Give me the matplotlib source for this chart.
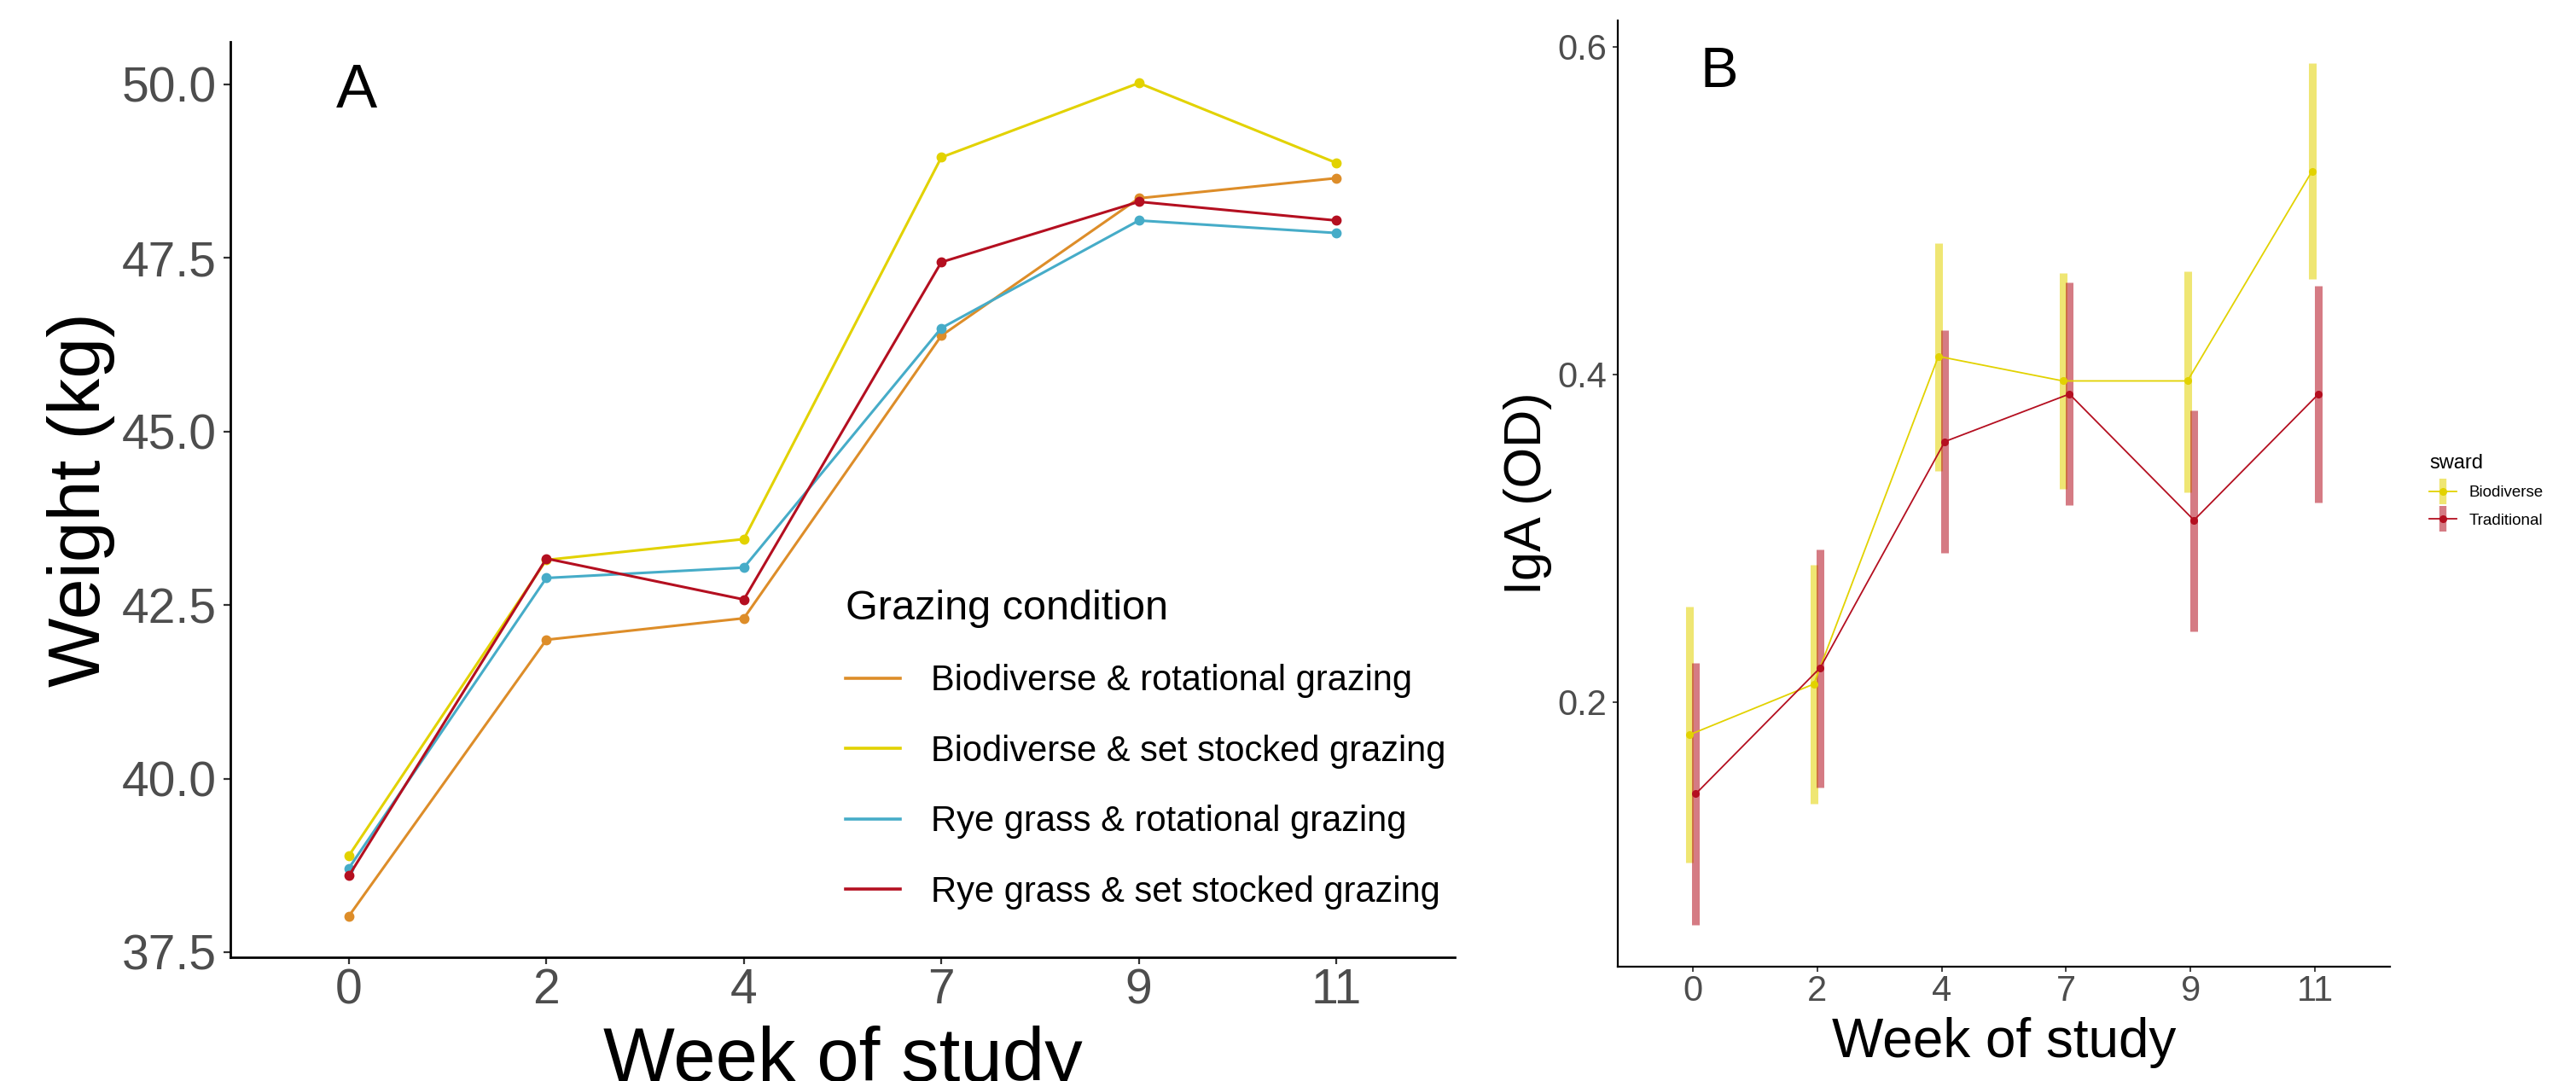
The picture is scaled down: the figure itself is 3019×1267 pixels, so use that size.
import numpy as np
import matplotlib
matplotlib.use("Agg")
import matplotlib.pyplot as plt
from matplotlib.lines import Line2D

plt.rcParams['font.family'] = ['Liberation Sans', 'DejaVu Sans']

# Panel A: mean weight per grazing condition
weeks = ['0', '2', '4', '7', '9', '11']
bio_rot = [38.02, 42.00, 42.31, 46.38, 48.36, 48.65]
bio_set = [38.89, 43.15, 43.45, 48.95, 50.02, 48.87]
rye_rot = [38.71, 42.89, 43.04, 46.49, 48.04, 47.86]
rye_set = [38.60, 43.17, 42.58, 47.44, 48.31, 48.04]
groups = ['Biodiverse & rotational grazing', 'Biodiverse & set stocked grazing',
          'Rye grass & rotational grazing', 'Rye grass & set stocked grazing']
group_colors = ['#DD8D29', '#E2D200', '#46ACC8', '#B40F20']

# Panel B: IgA by sward (mean with interval)
swards = ['Biodiverse', 'Traditional']
sward_colors = ['#E2D200', '#B40F20']
bio_mean = [0.180, 0.211, 0.411, 0.396, 0.396, 0.524]
bio_lo = [0.102, 0.138, 0.341, 0.330, 0.328, 0.458]
bio_hi = [0.258, 0.284, 0.480, 0.462, 0.463, 0.590]
trad_mean = [0.144, 0.221, 0.359, 0.388, 0.311, 0.388]
trad_lo = [0.064, 0.148, 0.291, 0.320, 0.243, 0.322]
trad_hi = [0.224, 0.293, 0.427, 0.456, 0.378, 0.454]

W, H = 3019, 1267
fig = plt.figure(figsize=(W / 100, H / 100), dpi=100)


def px_axes(left, top, right, bottom):
    return fig.add_axes([left / W, 1 - bottom / H, (right - left) / W, (bottom - top) / H])


def style_axis(ax, lw, ticklen, labsize, pad):
    for s in ['top', 'right']:
        ax.spines[s].set_visible(False)
    for s in ['left', 'bottom']:
        ax.spines[s].set_linewidth(lw)
        ax.spines[s].set_color('black')
    ax.tick_params(length=ticklen, width=lw * 0.8, color='#333333',
                   labelsize=labsize, labelcolor='#4D4D4D', pad=pad)


# ---------- Panel A ----------
axA = px_axes(270, 49, 1705, 1122)
x = np.arange(len(weeks))
for vals, lab, col in zip([bio_rot, bio_set, rye_rot, rye_set], groups, group_colors):
    axA.plot(x, vals, color=col, lw=2.2, marker='o', ms=7.5, label=lab)
axA.set_xlim(-0.6, len(weeks) - 0.4)
axA.set_ylim(37.426, 50.614)
axA.set_xticks(x)
axA.set_xticklabels(weeks)
axA.set_yticks([37.5, 40.0, 42.5, 45.0, 47.5, 50.0])
axA.set_yticklabels(['37.5', '40.0', '42.5', '45.0', '47.5', '50.0'])
style_axis(axA, 2.0, 5.8, 41, 6)
axA.tick_params(axis='x', pad=3)
# the reference crops this label at the bottom edge
axA.set_xlabel('Week of study', fontsize=64, va='top')
axA.xaxis.set_label_coords(0.5, -0.075)
axA.set_ylabel('Weight (kg)', fontsize=62, va='center')
axA.yaxis.set_label_coords(-0.122, 0.5)

handlesA = [Line2D([], [], color=c, lw=2.6) for c in group_colors]
legA = axA.legend(handlesA, groups, loc='upper left', frameon=False,
                  bbox_to_anchor=(970 / W, 1 - 670 / H), bbox_transform=fig.transFigure,
                  fontsize=30, title='Grazing condition', title_fontsize=35,
                  borderpad=0, labelspacing=1.02, handlelength=1.55,
                  handletextpad=0.86, alignment='left')
fig.text(418 / W, 1 - 107 / H, 'A', fontsize=52, ha='center', va='center')

# ---------- Panel B ----------
axB = px_axes(1896, 24, 2801, 1133)
dodge = 0.026
series = [(bio_mean, bio_lo, bio_hi, -dodge), (trad_mean, trad_lo, trad_hi, dodge)]
for (m, lo, hi, dx), col in zip(series, sward_colors):
    axB.vlines(x + dx, lo, hi, color=col, lw=6.5, alpha=0.55, zorder=2)
for (m, lo, hi, dx), col in zip(series, sward_colors):
    axB.plot(x + dx, m, color=col, lw=1.3, marker='o', ms=5.5, zorder=3)
axB.set_xlim(-0.6, len(weeks) - 0.4)
axB.set_ylim(0.0385, 0.616)
axB.set_xticks(x)
axB.set_xticklabels(weeks)
axB.set_yticks([0.2, 0.4, 0.6])
axB.set_yticklabels(['0.2', '0.4', '0.6'])
style_axis(axB, 1.6, 4.5, 30, 5)
axB.tick_params(axis='x', pad=2)
axB.set_xlabel('Week of study', fontsize=46, va='top')
axB.xaxis.set_label_coords(0.5, -0.053)
axB.set_ylabel('IgA (OD)', fontsize=44, va='center')
axB.yaxis.set_label_coords(-0.117, 0.5)

handlesB = []
for col in sward_colors:
    handlesB.append((Line2D([], [], color=col, lw=1.3),
                     Line2D([], [], ls='none', marker='|', ms=22, mew=6, color=col, alpha=0.55),
                     Line2D([], [], ls='none', marker='o', ms=5.5, color=col)))
legB = axB.legend(handlesB, swards, loc='upper left', frameon=False,
                  bbox_to_anchor=(2838 / W, 1 - 523 / H), bbox_transform=fig.transFigure,
                  fontsize=13.5, title='sward', title_fontsize=17,
                  borderpad=0, labelspacing=0.8, handlelength=1.7,
                  handletextpad=0.75, alignment='left')
fig.text(2015 / W, 1 - 85 / H, 'B', fontsize=48, ha='center', va='center')

fig.savefig('out.png', dpi=100, facecolor='white')
